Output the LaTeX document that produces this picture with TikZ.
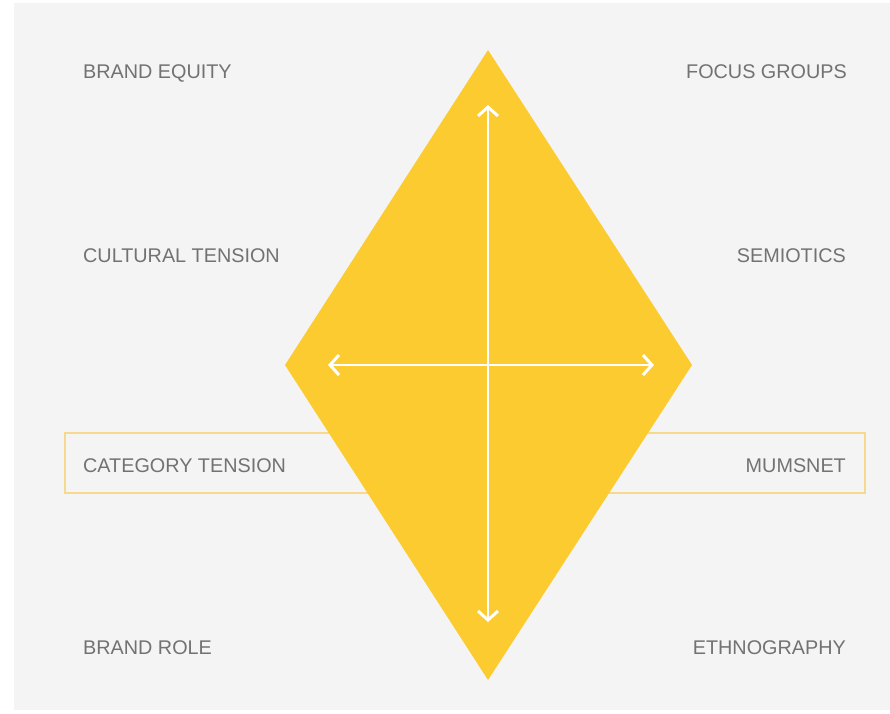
\documentclass[tikz,border=0pt]{standalone}
\usepackage{fontspec}
\setmainfont{Liberation Sans}
\usetikzlibrary{arrows.meta}
\definecolor{panel}{HTML}{F4F4F4}
\definecolor{gold}{HTML}{FCCB2F}
\definecolor{paleGold}{HTML}{F6D98C}
\definecolor{labelGrey}{HTML}{727272}
\begin{document}
\begin{tikzpicture}[x=1pt,y=-1pt,
  lbl/.style={font=\fontsize{19.8}{22}\selectfont, text=labelGrey, inner sep=0pt},
  lleft/.style={lbl, anchor=base west},
  lright/.style={lbl, anchor=base east},
  band/.style={draw=paleGold, line width=1.5pt},
  axis/.style={draw=white, line width=1.6pt,
    {Straight Barb[length=9pt,width=20pt,line width=3pt]}-{Straight Barb[length=9pt,width=20pt,line width=3pt]}}
]
\useasboundingbox (0,0) rectangle (890,713);
\fill[white] (0,0) rectangle (890,713);
\fill[panel] (14,3) rectangle (890,710);

% highlighted row behind the diamond
\draw[band] (65,433) rectangle (865,493);

% diamond corners
\coordinate (top) at (488,50);
\coordinate (bottom) at (488,680);
\coordinate (left) at (285,365);
\coordinate (right) at (692,365);
\fill[gold] (top) -- (right) -- (bottom) -- (left) -- cycle;

% axis end points
\coordinate (vtop) at (488,105);
\coordinate (vbot) at (488,622);
\coordinate (hleft) at (328,365);
\coordinate (hright) at (654,365);
\draw[axis] (vtop) -- (vbot);
\draw[axis] (hleft) -- (hright);

% labels (baselines)
\node[lleft]  (equity)   at (83,78)  {BRAND EQUITY};
\node[lright] (focus)    at (847,78) {FOCUS GROUPS};
\node[lleft]  (cultural) at (83,262) {CULTURAL TENSION};
\node[lright] (semiotic) at (846,262) {SEMIOTICS};
\node[lleft]  (category) at (83,472) {CATEGORY TENSION};
\node[lright] (mumsnet)  at (846,472) {MUMSNET};
\node[lleft]  (role)     at (83,654) {BRAND ROLE};
\node[lright] (ethno)    at (846,654) {ETHNOGRAPHY};
\end{tikzpicture}
\end{document}
